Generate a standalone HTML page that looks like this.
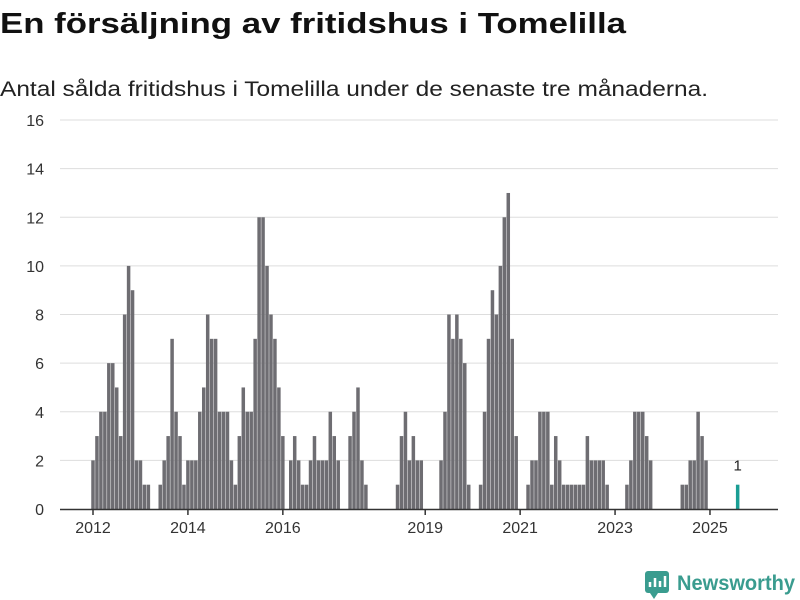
<!DOCTYPE html>
<html><head><meta charset="utf-8"><style>
body{margin:0;background:#fff;width:800px;height:600px;overflow:hidden;font-family:"Liberation Sans",sans-serif}
svg{display:block}
</style></head><body>
<svg width="800" height="600" viewBox="0 0 800 600">
<text x="0" y="33" font-size="29" font-weight="bold" fill="#111" textLength="626" lengthAdjust="spacingAndGlyphs">En försäljning av fritidshus i Tomelilla</text>
<text x="0" y="96" font-size="21" fill="#222" textLength="708" lengthAdjust="spacingAndGlyphs">Antal sålda fritidshus i Tomelilla under de senaste tre månaderna.</text>
<g id="grid"></g>
<g id="bars"></g>
<g id="xaxis"></g>
<g>
<rect x="645" y="571" width="24" height="22" rx="3" fill="#3a9c8f"/>
<path d="M650 587v-5M655 587v-9M660 587v-6M665 587v-11" stroke="#fff" stroke-width="2.5"/>
<path d="M650 593l4 6 4-6z" fill="#3a9c8f"/>
<text x="677" y="590" font-size="21" font-weight="bold" fill="#3a9c8f" textLength="118" lengthAdjust="spacingAndGlyphs">Newsworthy</text>
</g>
</svg>
<script>
const years=[2012,2013,2014,2015,2016,2017,2018,2019,2020,2021,2022,2023,2024,2025];
const v2012=[2,3,4,4,6,6,5,3,8,10,9,2];
const v2013=[2,1,1,0,0,1,2,3,7,4,3,1];
const v2014=[2,2,2,4,5,8,7,7,4,4,4,2];
const v2015=[1,3,5,4,4,7,12,12,10,8,7,5];
const v2016=[3,0,2,3,2,1,1,2,3,2,2,2];
const v2017=[4,3,2,0,0,3,4,5,2,1,0,0];
const v2018=[0,0,0,0,0,1,3,4,2,3,2,2];
const v2019=[0,0,0,0,2,4,8,7,8,7,6,1];
const v2020=[0,0,1,4,7,9,8,10,12,13,7,3];
const v2021=[0,0,1,2,2,4,4,4,1,3,2,1];
const v2022=[1,1,1,1,1,3,2,2,2,2,1,0];
const v2023=[0,0,0,1,2,4,4,4,3,2,0,0];
const v2024=[0,0,0,0,0,1,1,2,2,4,3,2];
const v2025=[0,0,0,0,0,0,0,1];
const yTicks=[0,2,4,6,8,10,12,14,16];
const xTickYears=[2012,2014,2016,2019,2021,2023,2025];
const values=[].concat(v2012,v2013,v2014,v2015,v2016,v2017,v2018,v2019,v2020,v2021,v2022,v2023,v2024,v2025);
const NS='http://www.w3.org/2000/svg';
const x=i=>93+i*3.955;
const y=v=>509-v*24.31;
function mk(t,a,p){const e=document.createElementNS(NS,t);for(const k in a)e.setAttribute(k,a[k]);p.appendChild(e);return e;}
const grid=document.getElementById('grid');
yTicks.forEach(t=>{
  if(t>0){const l=mk('line',{x1:60,x2:778,y1:y(t),y2:y(t),stroke:'#dddddd','stroke-width':1},grid);
  
  }
  const tx=mk('text',{x:44,y:y(t)+6,'font-size':16,fill:'#333','text-anchor':'end'},grid);
  tx.textContent=t;
  
  
});
const bars=document.getElementById('bars');
const last=values.length-1;
values.forEach((v,i)=>{
  if(v<=0)return;
  const r=mk('rect',{x:x(i)-1.75,y:y(v),width:3.5,height:509-y(v),fill:i===last?'#1a9e94':'#6e6d72'},bars);
  
  
});
const lbl=mk('text',{x:x(last),y:y(values[last])-14,'font-size':15,fill:'#222','text-anchor':'middle'},bars);
lbl.textContent=values[last];


const xa=document.getElementById('xaxis');
const al=mk('line',{x1:60,x2:778,y1:509.5,y2:509.5,stroke:'#333','stroke-width':1.5},xa);


xTickYears.forEach(yr=>{
  const i=(yr-years[0])*12;
  const tk=mk('line',{x1:x(i),x2:x(i),y1:509,y2:515,stroke:'#333','stroke-width':1.5},xa);
  
  
  const t=mk('text',{x:x(i),y:533,'font-size':16,fill:'#333','text-anchor':'middle'},xa);
  t.textContent=yr;
  
  
});
</script>
</body></html>
